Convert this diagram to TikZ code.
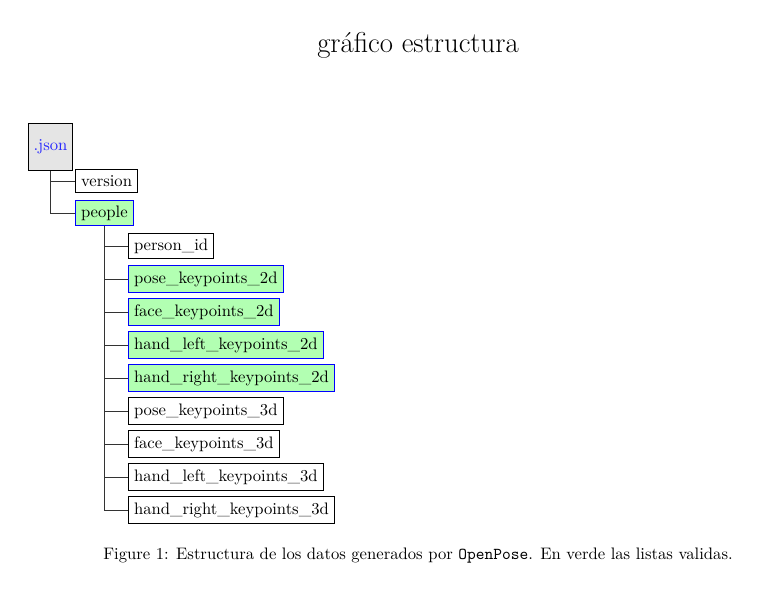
\documentclass[tikz,border=0pt]{standalone}
\usetikzlibrary{positioning}

\begin{document}
\begin{tikzpicture}[
    x=0.601pt, y=-0.601pt,
    every node/.style={font=\normalsize},
    field/.style={draw, semithick, anchor=west},
    valid/.style={field, draw=blue, fill=green!30},
    rootbox/.style={draw, semithick, fill=gray!20, text=blue!85, minimum height=1cm},
    branch/.style={draw, black!80, thin}
]
    \useasboundingbox (0,0) rectangle (775,615);

    % --- TITLE ---
    \node[font=\LARGE] (title) at (418,45) {gráfico estructura};

    % --- ROOT AND FIRST LEVEL ---
    \node[rootbox] (json) at (50.5,147) {.json};
    \node[field] (version) at (75,181) {version};
    \node[valid] (people) at (75,213) {people};

    \path[branch] (json.south) |- (version.west);
    \path[branch] (json.south) |- (people.west);

    % --- SECOND LEVEL (inside people) ---
    \foreach \name/\kind [count=\i from 0] in {
        person\_id/field,
        pose\_keypoints\_2d/valid,
        face\_keypoints\_2d/valid,
        hand\_left\_keypoints\_2d/valid,
        hand\_right\_keypoints\_2d/valid,
        pose\_keypoints\_3d/field,
        face\_keypoints\_3d/field,
        hand\_left\_keypoints\_3d/field,
        hand\_right\_keypoints\_3d/field}
    {
        \node[\kind] (key\i) at (128,246+33*\i) {\name};
        \path[branch] (people.south) |- (key\i.west);
    }

    % --- CAPTION ---
    \node (caption) at (418,556) {Figure 1: Estructura de los datos generados por \texttt{OpenPose}. En verde las listas validas.};

\end{tikzpicture}
\end{document}
